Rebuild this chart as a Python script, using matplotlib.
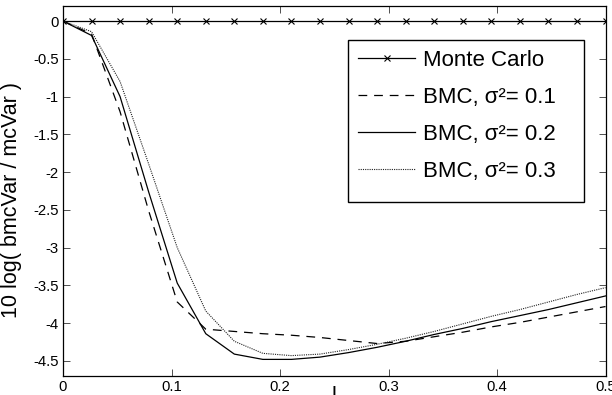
import matplotlib
matplotlib.use("Agg")
import matplotlib.pyplot as plt
from matplotlib.patches import Rectangle

plt.rcParams['font.family'] = ['Liberation Sans', 'DejaVu Sans']

x = [0.0, 0.0263, 0.0526, 0.0789, 0.1053, 0.1316, 0.1579, 0.1842, 0.2105, 0.2368,
     0.2632, 0.2895, 0.3158, 0.3421, 0.3684, 0.3947, 0.4211, 0.4474, 0.4737, 0.5]
monte_carlo = [0.0] * 20
bmc_01 = [0, -0.17, -1.20, -2.51, -3.72, -4.08, -4.11, -4.14, -4.16, -4.19,
          -4.23, -4.27, -4.24, -4.18, -4.12, -4.05, -3.99, -3.92, -3.85, -3.78]
bmc_02 = [0, -0.19, -1.00, -2.26, -3.47, -4.14, -4.41, -4.48, -4.48, -4.45,
          -4.39, -4.32, -4.24, -4.15, -4.07, -3.98, -3.90, -3.82, -3.73, -3.64]
bmc_03 = [0, -0.14, -0.80, -1.89, -3.00, -3.84, -4.24, -4.40, -4.43, -4.41,
          -4.35, -4.28, -4.20, -4.11, -4.01, -3.91, -3.82, -3.72, -3.62, -3.53]

labels = ['Monte Carlo', 'BMC, σ²= 0.1', 'BMC, σ²= 0.2', 'BMC, σ²= 0.3']
xticks = [0, 0.1, 0.2, 0.3, 0.4, 0.5]
xticklabels = ['0', '0.1', '0.2', '0.3', '0.4', '0.5']
yticks = [0, -0.5, -1, -1.5, -2, -2.5, -3, -3.5, -4, -4.5]
yticklabels = ['0', '-0.5', '-1', '-1.5', '-2', '-2.5', '-3', '-3.5', '-4', '-4.5']

fig = plt.figure(figsize=(6.12, 3.95), dpi=100)
ax = fig.add_axes([63/612, 1-376/395, (605.5-63)/612, (376-6)/395])

ax.plot(x, monte_carlo, color='black', lw=0.9, marker='x', ms=4, mew=0.8, label=labels[0])
ax.plot(x, bmc_01, color='black', lw=0.9, linestyle=(0, (7, 5.5)), label=labels[1])
ax.plot(x, bmc_02, color='black', lw=0.9, linestyle='-', label=labels[2])
ax.plot(x, bmc_03, color='#222222', lw=0.8, linestyle=(0, (1, 1)), label=labels[3])

ax.set_xlim(0, 0.5)
ax.set_ylim(-4.7, 0.2)
ax.set_xticks(xticks)
ax.set_xticklabels(xticklabels)
ax.set_yticks(yticks)
ax.set_yticklabels(yticklabels)
ax.tick_params(direction='in', length=5, width=0.6, top=True, right=True,
               labelsize=10.7, pad=3, color='#333333')
for s in ax.spines.values():
    s.set_linewidth(0.9)

ax.set_ylabel('10 log( bmcVar / mcVar )', fontsize=15.5)
ax.yaxis.set_label_coords(-0.075, (376-200)/370)
ax.set_xlabel('l', fontsize=15.5, labelpad=-6)

# legend box (drawn as its own frame, with the wide right margin of the original)
bx0 = (348-63)/542.5
by0 = (376-202)/370
ax.add_patch(Rectangle((bx0, by0), (584-348)/542.5, (202-40)/370,
                       transform=ax.transAxes, facecolor='white',
                       edgecolor='black', lw=1.0, zorder=4))
leg = ax.legend(loc='upper left', bbox_to_anchor=(bx0, (376-40)/370),
                borderaxespad=0, fontsize=16, frameon=False,
                handlelength=2.57, handletextpad=0.36,
                borderpad=0.45, labelspacing=0.72)
leg.set_zorder(5)

fig.savefig('out.png', dpi=100)
